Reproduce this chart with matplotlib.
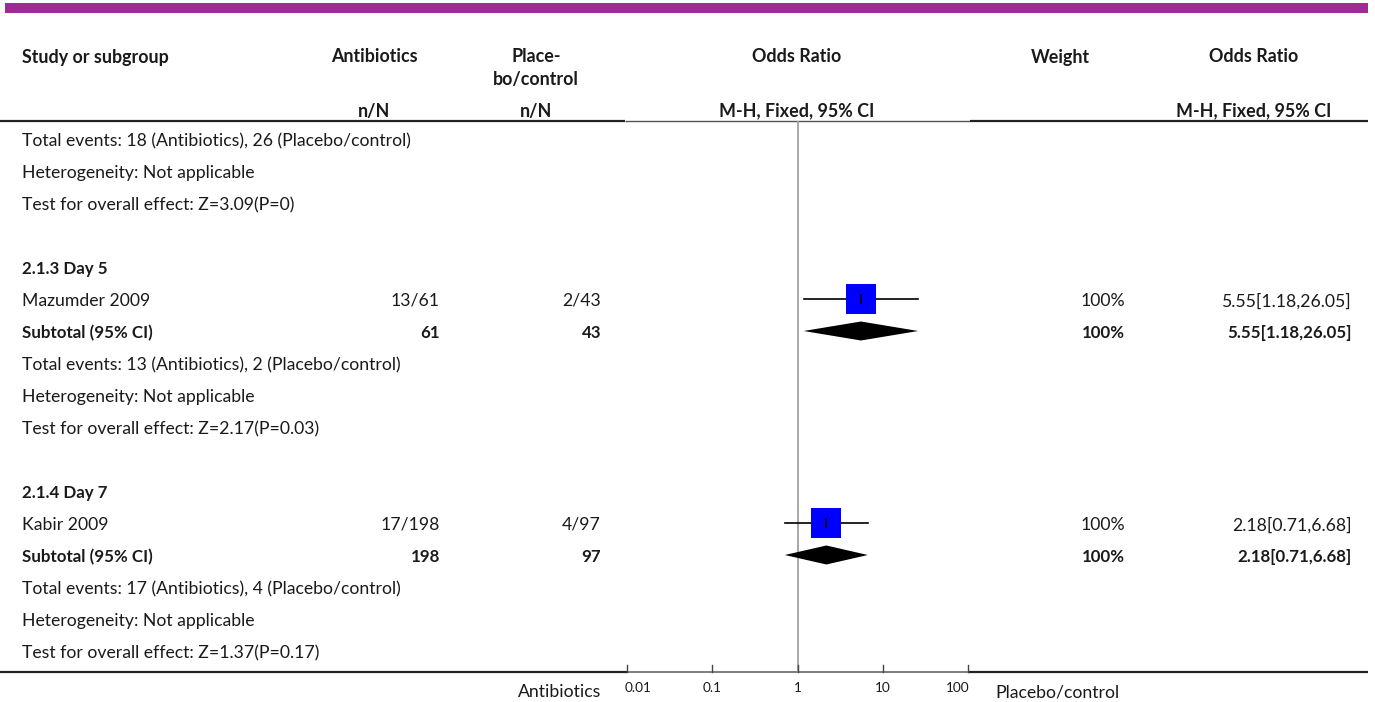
import matplotlib
matplotlib.use("Agg")
import matplotlib.pyplot as plt
from matplotlib.patches import Polygon

plt.rcParams['font.family'] = ['Lato', 'DejaVu Sans']

# ---- data ----
carry_lines = ["Total events: 18 (Antibiotics), 26 (Placebo/control)",
               "Heterogeneity: Not applicable",
               "Test for overall effect: Z=3.09(P=0)"]
groups = ["2.1.3 Day 5", "2.1.4 Day 7"]
studies = ["Mazumder 2009", "Kabir 2009"]
abx_events = [13, 17]
abx_total = [61, 198]
ctl_events = [2, 4]
ctl_total = [43, 97]
or_est = [5.55, 2.18]
or_lo = [1.18, 0.71]
or_hi = [26.05, 6.68]
weights = [100, 100]
z_vals = ["2.17", "1.37"]
p_vals = ["0.03", "0.17"]
axis_ticks = [0.01, 0.1, 1, 10, 100]
axis_tick_labels = ["0.01", "0.1", "1", "10", "100"]

W, H = 1375, 702
fig = plt.figure(figsize=(W / 100, H / 100), dpi=100)
bg = fig.add_axes([0, 0, 1, 1])
bg.set_xlim(0, W)
bg.set_ylim(H, 0)
bg.axis('off')

# forest axis placed in pixel space: 0.01 -> x=627, 100 -> x=968
fx0, fx1 = 627, 968
ytop, ybot = 121, 672
fa = fig.add_axes([fx0 / W, (H - ybot) / H, (fx1 - fx0) / W, (ybot - ytop) / H])
fa.set_xscale('log')
fa.set_xlim(0.01, 100)
fa.set_ylim(ybot, ytop)
fa.axis('off')

FS = 12.7
FSB = 12.2
FSH = 12.9
TXT = '#1a1a1a'
purple = '#9E2A96'
DY = 2  # text baseline nudge

# top band
bg.add_patch(plt.Rectangle((5, 3), 1363, 10, color=purple, lw=0))

# column positions
x_name = 22
x_abx = 440
x_ctl = 601
x_w = 1125
x_or = 1352

# headers
hdr = dict(fontsize=FSH, fontweight='bold', color=TXT, va='center')
bg.text(x_name, 55 + DY, "Study or subgroup", ha='left', **hdr)
bg.text(374, 55 + DY, "Antibiotics", ha='center', **hdr)
bg.text(536, 55 + DY, "Place-", ha='center', **hdr)
bg.text(536, 77 + DY, "bo/control", ha='center', **hdr)
bg.text(797, 55 + DY, "Odds Ratio", ha='center', **hdr)
bg.text(1060, 55 + DY, "Weight", ha='center', **hdr)
bg.text(1254, 55 + DY, "Odds Ratio", ha='center', **hdr)
bg.text(374, 109 + DY, "n/N", ha='center', **hdr)
bg.text(536, 109 + DY, "n/N", ha='center', **hdr)
bg.text(797, 109 + DY, "M-H, Fixed, 95% CI", ha='center', **hdr)
bg.text(1254, 109 + DY, "M-H, Fixed, 95% CI", ha='center', **hdr)

# header rule
bg.plot([0, 625], [121, 121], color='#222222', lw=1.6, solid_capstyle='butt')
bg.plot([625, 970], [121, 121], color='#555555', lw=1.0, solid_capstyle='butt')
bg.plot([970, 1368], [121, 121], color='#222222', lw=1.6, solid_capstyle='butt')

row_y = lambda i: 139 + 32.0 * i
norm = dict(fontsize=FS, color=TXT, va='center')
bold = dict(fontsize=FSB, color=TXT, va='center', fontweight='bold')

# carried-over summary lines
for i, s in enumerate(carry_lines):
    bg.text(x_name, row_y(i) + DY, s, ha='left', **norm)

# null line
fa.plot([1, 1], [ytop, ybot], color='#a0a0a0', lw=1.3, zorder=1)

r = 4
for g in range(len(groups)):
    bg.text(x_name, row_y(r) + DY, groups[g], ha='left', **bold)
    r += 1
    y = row_y(r)
    bg.text(x_name, y + DY, studies[g], ha='left', **norm)
    bg.text(x_abx, y + DY, f"{abx_events[g]}/{abx_total[g]}", ha='right', **norm)
    bg.text(x_ctl, y + DY, f"{ctl_events[g]}/{ctl_total[g]}", ha='right', **norm)
    bg.text(x_w, y + DY, f"{weights[g]}%", ha='right', **norm)
    bg.text(x_or, y + DY, f"{or_est[g]:.2f}[{or_lo[g]:.2f},{or_hi[g]:.2f}]", ha='right', **norm)
    fa.plot([or_lo[g], or_hi[g]], [y, y], color='black', lw=1.2, zorder=2)
    fa.plot([or_est[g]], [y], marker='s', markersize=22.3, color='#0000FF',
            markeredgewidth=0, zorder=3)
    fa.plot([or_est[g], or_est[g]], [y - 4, y + 4], color='black', lw=1.2, zorder=4)
    r += 1
    y = row_y(r)
    bg.text(x_name, y + DY, "Subtotal (95% CI)", ha='left', **bold)
    bg.text(x_abx, y + DY, f"{abx_total[g]}", ha='right', **bold)
    bg.text(x_ctl, y + DY, f"{ctl_total[g]}", ha='right', **bold)
    bg.text(x_w, y + DY, f"{weights[g]}%", ha='right', **bold)
    bg.text(x_or, y + DY, f"{or_est[g]:.2f}[{or_lo[g]:.2f},{or_hi[g]:.2f}]", ha='right', **bold)
    fa.add_patch(Polygon([(or_lo[g], y), (or_est[g], y - 9.5), (or_hi[g], y),
                          (or_est[g], y + 9.5)], closed=True, color='black', lw=0, zorder=3))
    r += 1
    bg.text(x_name, row_y(r) + DY, f"Total events: {abx_events[g]} (Antibiotics), "
            f"{ctl_events[g]} (Placebo/control)", ha='left', **norm)
    r += 1
    bg.text(x_name, row_y(r) + DY, "Heterogeneity: Not applicable", ha='left', **norm)
    r += 1
    bg.text(x_name, row_y(r) + DY, f"Test for overall effect: Z={z_vals[g]}(P={p_vals[g]})",
            ha='left', **norm)
    r += 2

# bottom axis
bg.plot([0, fx0], [ybot, ybot], color='#222222', lw=1.6, solid_capstyle='butt')
bg.plot([fx0, fx1], [ybot, ybot], color='#666666', lw=1.2, solid_capstyle='butt')
bg.plot([fx1, 1368], [ybot, ybot], color='#222222', lw=1.6, solid_capstyle='butt')
n_ticks = len(axis_ticks)
for k, (t, lab) in enumerate(zip(axis_ticks, axis_tick_labels)):
    fa.plot([t, t], [ybot, ybot - 7], color='#444444', lw=1.0, clip_on=False)
    if k == 0:
        ha, off = 'left', -2
    elif k == n_ticks - 1:
        ha, off = 'right', 2
    else:
        ha, off = 'center', 0
    fa.annotate(lab, xy=(t, 688), xycoords='data', xytext=(off * 0.72, 0),
                textcoords='offset points', ha=ha, va='center', fontsize=9.8,
                color=TXT, annotation_clip=False)
bg.text(601, 690 + DY, "Antibiotics", ha='right', **norm)
bg.text(995, 690 + DY, "Placebo/control", ha='left', **norm)

fig.savefig("out.png", dpi=100)
